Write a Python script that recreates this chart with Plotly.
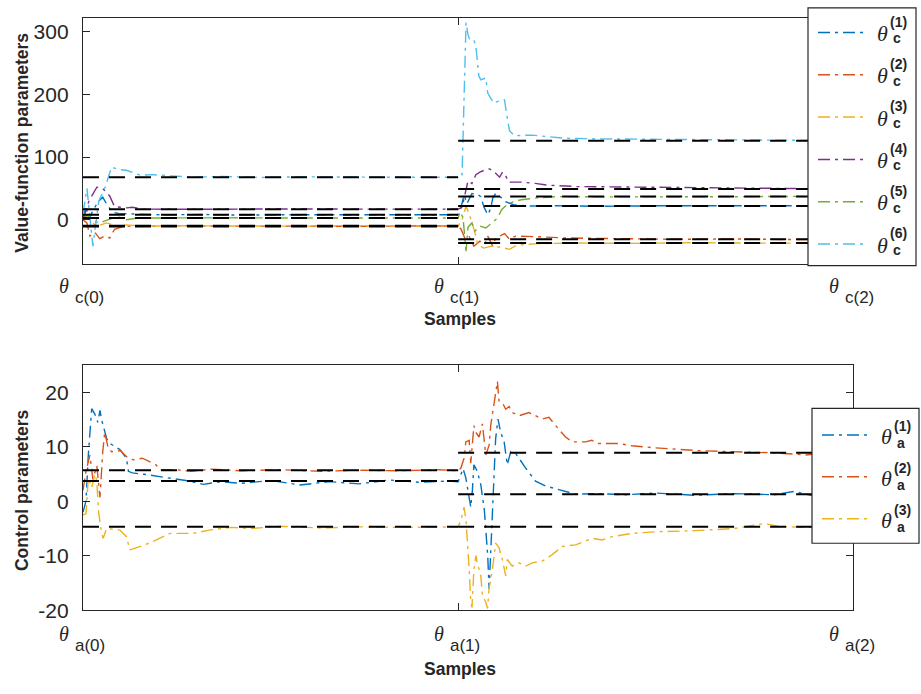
import plotly.graph_objects as go

# ---------------- data ----------------
# x in samples: theta(0)=0, theta(1)=190, theta(2)=390
TICK_VALS = [0, 190, 390]
TOP_TICK_SUBS = ["c(0)", "c(1)", "c(2)"]
BOT_TICK_SUBS = ["a(0)", "a(1)", "a(2)"]
TOP_Y_TICKS = [0, 100, 200, 300]
TOP_Y_TEXT = ["0", "100", "200", "300"]
BOT_Y_TICKS = [-20, -10, 0, 10, 20]
BOT_Y_TEXT = ["-20", "-10", "0", "10", "20"]

PHASE1_X = [0, 190]
PHASE2_X = [190, 390]

# converged (reference) values, value-function parameters
TOP_REF_P1 = [8, -9.5, -10.5, 17, 3, 68]
TOP_REF_P2 = [22, -31, -37, 49, 37, 126]
# converged (reference) values, control parameters
BOT_REF_P1 = [3.7, 5.7, -4.7]
BOT_REF_P2 = [1.3, 8.9, -4.7]

C1_X = [0, 1.5, 3, 5, 8, 10, 12, 15, 18, 25, 40, 60, 80, 100, 120, 140, 160, 175, 190,
        191.5, 193, 194.5, 197, 200, 201.5, 203, 205, 206.5, 207.5, 209, 212, 214, 218, 225, 240, 260, 290, 320, 350, 390]
C1_Y = [0, 22, 0, 15, 30, 36, 25, 12, 10, 9, 8, 8.5, 7.5, 8, 8.3, 7.8, 8.4, 8, 8,
        20, 40, 26, 42, 40, 37, 21, 8, 18, 34, 42, 35, 29, 24, 22, 22.5, 21.5, 22.3, 21.8, 22.4, 22]

C2_X = [0, 2, 3.5, 6, 8.5, 11, 13.5, 16, 19, 21, 30, 50, 70, 90, 110, 130, 150, 170, 190,
        191.5, 193.5, 195.5, 198, 201, 203.5, 205, 207.5, 209, 213.5, 216, 219, 230, 245, 270, 300, 330, 360, 390]
C2_Y = [0, -5, -26, -20, -30, -26, -29, -15, -12, -10, -10.5, -9.5, -10, -10.3, -9.7, -10, -10.2, -9.8, -10,
        -15, -30, -26, -42, -34, -39, -26, -42, -29, -22, -31, -26, -27, -29, -30, -31, -30.5, -31.5, -31]

C3_X = [0, 2, 4, 7, 12, 17, 22, 30, 50, 70, 90, 110, 130, 150, 170, 190,
        192, 194, 195.5, 197, 198.5, 200, 203, 207, 212, 216, 220, 230, 250, 280, 310, 340, 370, 390]
C3_Y = [0, 8, -3, -10, -5, -10, -8, -10, -9.5, -10, -9.7, -10.2, -9.8, -10, -9.6, -10,
        0, 22, 10, -5, -20, -40, -45, -42, -44, -47, -40, -38, -37, -37.5, -36.5, -37.2, -36.8, -37]

C4_X = [0, 3, 7, 10, 13.5, 16, 22, 25, 30, 50, 70, 90, 110, 130, 150, 170, 190,
        192, 195, 197, 199, 201, 204, 206, 208, 211, 212.5, 214, 215.5, 219, 222, 229, 236, 250, 280, 320, 360, 390]
C4_Y = [0, 30, 52, 50, 38, 21, 19, 20, 17, 17.5, 16.8, 17.2, 17, 16.7, 17.3, 17, 17,
        20, 62, 58, 72, 76, 80, 81, 77, 68, 76, 71, 60, 60, 60, 58, 55, 53, 52, 51, 50, 49]

C5_X = [0, 2, 5, 8.5, 12.5, 17.5, 22, 28, 40, 60, 80, 100, 120, 140, 160, 180, 190,
        191, 192.5, 194, 195, 197, 198.5, 201, 204, 206, 210, 212, 214, 218, 222, 230, 240, 270, 300, 330, 360, 390]
C5_Y = [0, 8, -2, -5, 0, 5, 0, 3, 3, 2.5, 3.2, 3, 2.8, 3.1, 3, 2.9, 3,
        13, 3, -50, -12, -5, -18, -10, -13, -8, 3, 16, 22, 29, 32, 35, 37, 36.5, 37.2, 36.8, 37.3, 37]

C6_X = [0, 2, 5, 8, 11, 14.5, 18, 22, 29, 35, 44, 56, 70, 90, 110, 130, 150, 170, 190,
        192, 194, 195, 196, 198, 199, 200.5, 201.5, 204, 205, 208, 210.5, 213.5, 214.5, 216, 218.5,
        227, 234, 244, 260, 300, 350, 390]
C6_Y = [10, 50, -42, 30, 50, 84, 80, 79, 71, 72, 70, 68, 69, 67.5, 68.5, 68, 68.3, 67.7, 68,
        72, 314, 295, 286, 286, 276, 229, 223, 226, 202, 186, 189, 191, 170, 142, 134,
        135, 133, 130, 129, 128, 127, 126]

A1_X = [0, 1.5, 2.7, 4.4, 6, 7.5, 8.6, 9.4, 12, 13.6, 18.7, 22, 23, 25, 32, 37, 44, 54, 61, 70, 80, 95,
        110, 125, 140, 155, 170, 185, 190,
        191.4, 192.5, 193.9, 196.4, 197.2, 198, 199.7, 201.5, 203.3, 205, 205.7, 206.5, 207.5, 208.2, 209,
        210.2, 211.5, 213.3, 214.9, 216.6, 219.1, 224.2, 229.2, 234.3, 241, 249.5, 260, 275, 290, 310, 330,
        350, 360, 370, 380, 390]
A1_Y = [-2, 0, 8.5, 17, 16, 14.5, 16.7, 15, 11.5, 10.6, 9.5, 7.9, 5.5, 5.2, 4.9, 4.6, 4.3, 3.7, 3.1, 3.6, 3.3, 3.8,
        3.0, 3.6, 3.2, 3.9, 3.5, 3.7, 3.6,
        4.9, 6.0, 4.3, -1.1, 1.9, 6.7, 5.5, 3, -1.7, -10.1, -16.1, -9.5, -3, 1.9, 11.5,
        15.1, 12.7, 10.9, 6.7, 9.1, 8.8, 6.1, 3.7, 2.8, 2.2, 1.3, 1.4, 1.2, 1.5, 1.1, 1.4,
        1.2, 1.8, 1.0, 1.2, 0.9]

A2_X = [0, 1.5, 3.5, 5, 7, 8.6, 10, 11, 12.8, 14.5, 19, 22, 25.4, 30, 37, 39, 47, 55, 65, 80, 100, 120, 140,
        160, 180, 190,
        191.4, 193, 193.9, 195.6, 196.4, 198, 198.9, 200.6, 202.3, 204, 205.7, 206.5, 209.9, 210.7, 212.4,
        214.1, 215.8, 217.4, 220.8, 225.9, 232.6, 236, 239.4, 244.4, 247.8, 254.5, 257.7, 261.2, 271.3,
        277.9, 290, 311.8, 337, 350, 366, 375, 383, 390]
A2_Y = [2, 5.5, 8.5, 4, 6.5, 0.7, 9.1, 12.7, 9.7, 9.1, 9.3, 8.2, 7.6, 7.9, 6.7, 5.8, 5.8, 5.5, 5.9, 5.6, 5.8,
        5.5, 5.7, 5.6, 5.8, 5.6,
        6.1, 7.9, 10.9, 11.2, 7, 13.9, 12.7, 11.8, 14.2, 8.5, 10.3, 13.9, 22, 18.4, 18.1,
        16.9, 17.4, 16.3, 15.7, 16.3, 15.1, 15.4, 13.9, 11.8, 10.9, 10.9, 11.2, 10.6, 10.6,
        10.2, 9.8, 9.3, 9.0, 8.9, 8.5, 8.8, 8.4, 8.6]

A3_X = [0, 1.5, 2.7, 4.4, 6, 7, 7.8, 9.4, 10.2, 12, 18.7, 22, 23.7, 25, 29, 35.5, 44, 55.6, 64, 75, 85, 100,
        120, 140, 160, 190,
        191.4, 193, 194, 195, 195.6, 196.4, 197, 198, 199, 199.7, 201.5, 202.3, 204, 204.9, 205.7, 207.4,
        209, 210.7, 212.4, 214.1, 214.9, 217.4, 220.8, 224.2, 227.5, 232.6, 237.7, 242.8, 249.5, 258, 263,
        268, 278, 290, 310, 330, 345, 352, 365, 380, 390]
A3_Y = [-2.5, -2.3, 4.3, 2.5, 5, 3.7, -1.7, -5.9, -6.8, -5, -5.3, -6.5, -8.9, -8.8, -8.3, -7.4, -5.9, -5.9,
        -5.3, -4.8, -5.0, -4.6, -4.9, -4.7, -4.8, -4.7,
        -3.5, -1.1, -3.5, -8.3, -12.5, -18.5, -19.5, -12.5, -10, -11.3, -13.7, -17.3, -18.5, -19.7, -16, -12.5,
        -7.7, -8.5, -10.7, -13.7, -10.7, -11.9, -11.3, -11.9, -11.3, -11.0, -9.8, -8.3, -8.0, -6.8, -7.1,
        -6.5, -5.9, -5.6, -5.4, -5.0, -4.1, -4.6, -4.8, -4.6, -4.8]

TOP_SERIES = [(C1_X, C1_Y), (C2_X, C2_Y), (C3_X, C3_Y), (C4_X, C4_Y), (C5_X, C5_Y), (C6_X, C6_Y)]
BOT_SERIES = [(A1_X, A1_Y), (A2_X, A2_Y), (A3_X, A3_Y)]
TOP_LEGEND = ["(1)", "(2)", "(3)", "(4)", "(5)", "(6)"]
BOT_LEGEND = ["(1)", "(2)", "(3)"]

# ---------------- styling ----------------
W, H = 921, 694
COLORS = ["#0072BD", "#D95319", "#EDB120", "#7E2F8E", "#77AC30", "#4DBEEE"]
AX = "#262626"
FONT = "Liberation Sans, Arial, sans-serif"
SERIF = "Liberation Serif, Times New Roman, serif"
DASHDOT = "12px,5px,3px,5px"
BLACKDASH = "16px,10px"


def px(x):
    return x / W


def py(y):
    return 1 - y / H


def ann(x, y, text, size, family=FONT, xref="paper", xanchor="center", yanchor="middle", **kw):
    d = dict(x=x, y=y, xref=xref, yref="paper", text=text, showarrow=False,
             xanchor=xanchor, yanchor=yanchor, font=dict(family=family, size=size, color=AX))
    d.update(kw)
    return d


fig = go.Figure()

for (xs, ys), col in zip(TOP_SERIES, COLORS):
    fig.add_trace(go.Scatter(x=xs, y=ys, mode="lines", xaxis="x", yaxis="y",
                             line=dict(color=col, width=1.4, dash=DASHDOT), showlegend=False))
for (xs, ys), col in zip(BOT_SERIES, COLORS):
    fig.add_trace(go.Scatter(x=xs, y=ys, mode="lines", xaxis="x2", yaxis="y2",
                             line=dict(color=col, width=1.4, dash=DASHDOT), showlegend=False))

for v in TOP_REF_P1:
    fig.add_trace(go.Scatter(x=PHASE1_X, y=[v, v], mode="lines", xaxis="x", yaxis="y",
                             line=dict(color="black", width=2, dash=BLACKDASH), showlegend=False))
for v in TOP_REF_P2:
    fig.add_trace(go.Scatter(x=PHASE2_X, y=[v, v], mode="lines", xaxis="x", yaxis="y",
                             line=dict(color="black", width=2, dash=BLACKDASH), showlegend=False))
for v in BOT_REF_P1:
    fig.add_trace(go.Scatter(x=PHASE1_X, y=[v, v], mode="lines", xaxis="x2", yaxis="y2",
                             line=dict(color="black", width=2, dash=BLACKDASH), showlegend=False))
for v in BOT_REF_P2:
    fig.add_trace(go.Scatter(x=PHASE2_X, y=[v, v], mode="lines", xaxis="x2", yaxis="y2",
                             line=dict(color="black", width=2, dash=BLACKDASH), showlegend=False))

xdom = [px(83), px(853)]
common_x = dict(domain=xdom, range=[TICK_VALS[0], TICK_VALS[-1]], showline=True, linecolor=AX, linewidth=1.3,
                mirror="ticks", ticks="inside", ticklen=7, tickcolor=AX, tickwidth=1.3,
                tickvals=TICK_VALS, showticklabels=False, showgrid=False, zeroline=False)
common_y = dict(showline=True, linecolor=AX, linewidth=1.3, mirror="ticks", ticks="inside", ticklen=7,
                tickcolor=AX, tickwidth=1.3, showgrid=False, zeroline=False, ticklabelstandoff=9,
                tickfont=dict(family=FONT, size=21, color=AX))

annotations = []
shapes = []

# x tick labels (theta with subscript)
for tv, sub in zip(TICK_VALS, TOP_TICK_SUBS):
    annotations.append(ann(tv, py(291), "<i>θ</i>", 20, family=SERIF, xref="x", xshift=-19))
    annotations.append(ann(tv, py(302), sub, 17, xref="x", xanchor="left", xshift=-10))
for tv, sub in zip(TICK_VALS, BOT_TICK_SUBS):
    annotations.append(ann(tv, py(644), "<i>θ</i>", 20, family=SERIF, xref="x2", xshift=-19))
    annotations.append(ann(tv, py(656), sub, 17, xref="x2", xanchor="left", xshift=-10))

# axis titles
annotations += [
    ann(px(22), py(145), "<b>Value-function parameters</b>", 17.5, textangle=-90),
    ann(px(22), py(498), "<b>Control parameters</b>", 17.5, textangle=-90),
    ann(px(460), py(324), "<b>Samples</b>", 17.5),
    ann(px(460), py(680), "<b>Samples</b>", 17.5),
]

# legends (drawn manually to get stacked super/subscripts)
shapes.append(dict(type="rect", xref="paper", yref="paper", x0=px(808), x1=px(916), y0=py(270), y1=py(8),
                   line=dict(color=AX, width=1.2), fillcolor="white", layer="above"))
for i, lab in enumerate(TOP_LEGEND):
    ye = 33 + i * 43
    shapes.append(dict(type="line", xref="paper", yref="paper", x0=px(818), x1=px(868), y0=py(ye), y1=py(ye),
                       line=dict(color=COLORS[i], width=1.5, dash=DASHDOT), layer="above"))
    annotations.append(ann(px(882), py(ye + 1), "<i>θ</i>", 22, family=SERIF))
    annotations.append(ann(px(888), py(ye - 11), "<b>" + lab + "</b>", 14, xanchor="left"))
    annotations.append(ann(px(891), py(ye + 6), "<b>c</b>", 14, xanchor="left"))

shapes.append(dict(type="rect", xref="paper", yref="paper", x0=px(812), x1=px(919), y0=py(552), y1=py(415),
                   line=dict(color=AX, width=1.2), fillcolor="white", layer="above"))
for i, lab in enumerate(BOT_LEGEND):
    ye = 442 + i * 42.5
    shapes.append(dict(type="line", xref="paper", yref="paper", x0=px(822), x1=px(872), y0=py(ye), y1=py(ye),
                       line=dict(color=COLORS[i], width=1.5, dash=DASHDOT), layer="above"))
    annotations.append(ann(px(886), py(ye + 2), "<i>θ</i>", 22, family=SERIF))
    annotations.append(ann(px(892), py(ye - 9), "<b>" + lab + "</b>", 14, xanchor="left"))
    annotations.append(ann(px(895), py(ye + 8), "<b>a</b>", 14, xanchor="left"))

fig.update_layout(
    width=W, height=H, margin=dict(l=0, r=0, t=0, b=0),
    paper_bgcolor="white", plot_bgcolor="white",
    xaxis=dict(common_x, anchor="y"),
    yaxis=dict(common_y, domain=[py(268), py(18)], range=[-70, 322], tickvals=TOP_Y_TICKS, ticktext=TOP_Y_TEXT,
               anchor="x"),
    xaxis2=dict(common_x, anchor="y2"),
    yaxis2=dict(common_y, domain=[py(620), py(371)], range=[-20, 25], tickvals=BOT_Y_TICKS, ticktext=BOT_Y_TEXT,
                anchor="x2"),
    annotations=annotations, shapes=shapes, showlegend=False,
)

fig.write_html("out.html")
